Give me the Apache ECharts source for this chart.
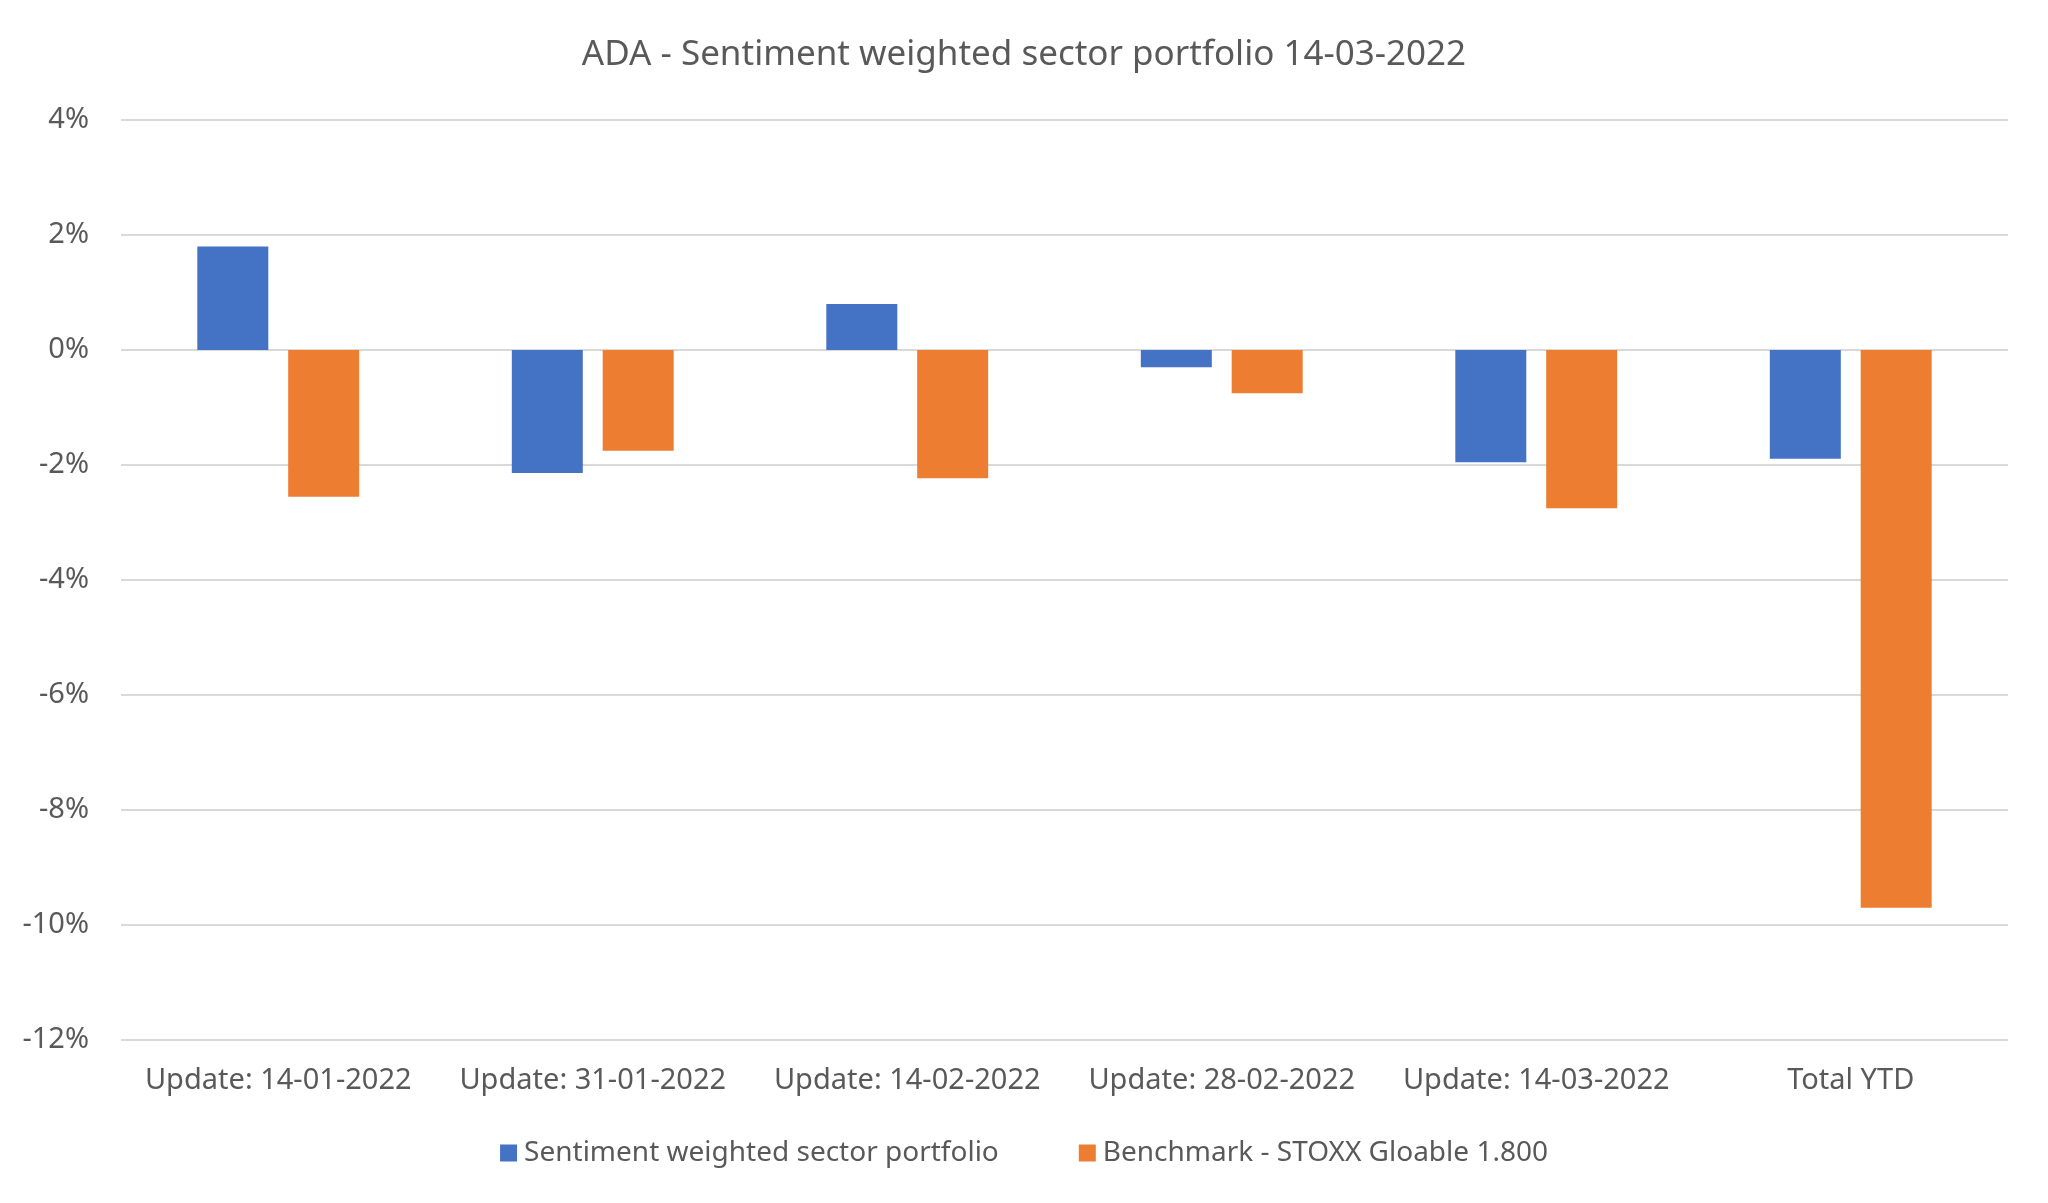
<!DOCTYPE html>
<html>
<head>
<meta charset="utf-8">
<script src="https://cdn.jsdelivr.net/npm/echarts@6/dist/echarts.min.js"></script>
<style>
html,body{margin:0;padding:0;background:#fff;}
#chart{width:2048px;height:1203px;}
</style>
</head>
<body>
<div id="chart"></div>
<script>
var titleText = 'ADA - Sentiment weighted sector portfolio 14-03-2022';
var categories = ['Update: 14-01-2022','Update: 31-01-2022','Update: 14-02-2022','Update: 28-02-2022','Update: 14-03-2022','Total YTD'];
var seriesNames = ['Sentiment weighted sector portfolio','Benchmark - STOXX Gloable 1.800'];
var portfolio = [1.80, -2.14, 0.80, -0.30, -1.95, -1.89];
var benchmark = [-2.55, -1.75, -2.23, -0.75, -2.75, -9.70];
var yMin = -12, yMax = 4, yStep = 2;

var font = 'Noto Sans';
var textColor = '#595959';
var chart = echarts.init(document.getElementById('chart'));
chart.setOption({
  backgroundColor: '#ffffff',
  animation: false,
  title: {
    text: titleText,
    left: 'center',
    top: 33,
    textStyle: {fontFamily: font, fontSize: 35, fontWeight: 'normal', color: textColor}
  },
  legend: {
    bottom: 31,
    left: 'center',
    itemWidth: 17,
    itemHeight: 17,
    itemGap: 80,
    icon: 'rect',
    textStyle: {fontFamily: font, fontSize: 28, color: textColor, padding: [0,0,0,2]},
    data: seriesNames
  },
  grid: {left: 121, right: 40, top: 120, bottom: 163, containLabel: false},
  xAxis: {
    type: 'category',
    data: categories,
    axisLine: {show: false},
    axisTick: {show: false},
    axisLabel: {fontFamily: font, fontSize: 29, color: textColor, margin: 26, interval: 0}
  },
  yAxis: {
    type: 'value',
    min: yMin, max: yMax, interval: yStep,
    axisLine: {show: false},
    axisTick: {show: false},
    axisLabel: {fontFamily: font, fontSize: 29, color: textColor, margin: 32, formatter: '{value}%'},
    splitLine: {lineStyle: {color: '#D9D9D9', width: 2}}
  },
  series: [
    {name: seriesNames[0], type: 'bar', data: portfolio, barWidth: 71, barGap: '28%', itemStyle: {color: '#4472C4'}},
    {name: seriesNames[1], type: 'bar', data: benchmark, barWidth: 71, barGap: '28%', itemStyle: {color: '#ED7D31'}}
  ]
});
</script>
</body>
</html>
